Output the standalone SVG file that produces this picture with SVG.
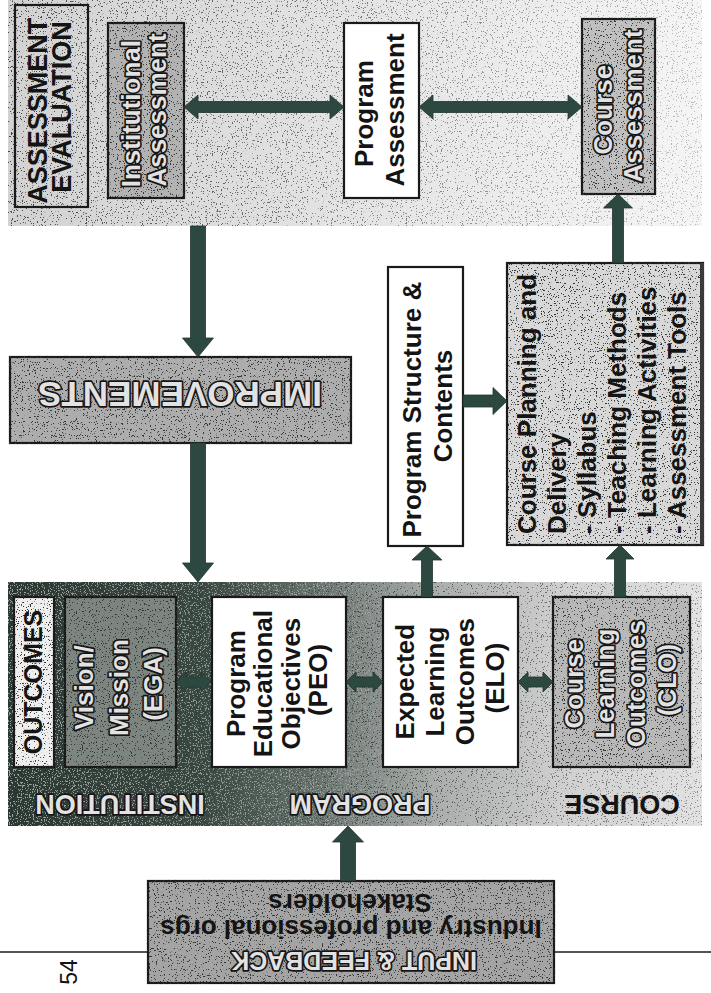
<svg xmlns="http://www.w3.org/2000/svg" width="711" height="993" viewBox="0 0 711 993">
  <style>
    text { font-family: "Liberation Sans", Arial, sans-serif; font-weight: bold; fill: #141414; }
    .t26 { font-size: 26px; }
    .hollow { fill: #e2e2e2; stroke: #151515; stroke-width: 3.4; paint-order: stroke; stroke-linejoin: round; }
    .edge { stroke: #1a1a1a; stroke-width: 2.2; }
    .white { fill: #ffffff; }
    .arrow { fill: #2c4840; stroke: #22352f; stroke-width: 0.8; stroke-linejoin: miter; }
    .rule { stroke: #1a1a1a; stroke-width: 1.6; fill: none; }
  </style>
  <defs>
    <!-- dark speckle merged over a shape's own fill -->
    <filter id="grain" color-interpolation-filters="sRGB">
      <feTurbulence type="fractalNoise" baseFrequency="0.85" numOctaves="2" seed="11" result="n"/>
      <feColorMatrix in="n" type="matrix" values="0 0 0 0 0.2  0 0 0 0 0.21  0 0 0 0 0.2  0 0 0 -24 8.6" result="d"/>
      <feComposite in="d" in2="SourceGraphic" operator="in" result="c"/>
      <feMerge><feMergeNode in="SourceGraphic"/><feMergeNode in="c"/></feMerge>
    </filter>
    <!-- dark specks only, density follows the shape's alpha -->
    <filter id="dotsDark" x="0" y="0" width="1" height="1" color-interpolation-filters="sRGB">
      <feTurbulence type="fractalNoise" baseFrequency="0.8" numOctaves="2" seed="4" result="n"/>
      <feColorMatrix in="n" type="matrix" values="0 0 0 0 0.2  0 0 0 0 0.22  0 0 0 0 0.21  0 0 0 -24 8.5" result="d"/>
      <feComposite in="d" in2="SourceGraphic" operator="in"/>
    </filter>
    <!-- light specks for the dark end of the outcomes panel -->
    <filter id="dotsLight" x="0" y="0" width="1" height="1" color-interpolation-filters="sRGB">
      <feTurbulence type="fractalNoise" baseFrequency="0.75" numOctaves="2" seed="9" result="n"/>
      <feColorMatrix in="n" type="matrix" values="0 0 0 0 0.8  0 0 0 0 0.82  0 0 0 0 0.81  0 0 0 20 -11.6" result="d"/>
      <feComposite in="d" in2="SourceGraphic" operator="in"/>
    </filter>
    <linearGradient id="bandFill" x1="0" y1="0" x2="1" y2="0">
      <stop offset="0" stop-color="#d2d2d2"/>
      <stop offset="0.5" stop-color="#e4e4e4"/>
      <stop offset="1" stop-color="#f5f5f5"/>
    </linearGradient>
    <linearGradient id="bandDots" x1="0" y1="0" x2="1" y2="0">
      <stop offset="0" stop-color="#000" stop-opacity="0.9"/>
      <stop offset="0.6" stop-color="#000" stop-opacity="0.55"/>
      <stop offset="1" stop-color="#000" stop-opacity="0.3"/>
    </linearGradient>
    <linearGradient id="panelFill" x1="0" y1="0" x2="1" y2="0">
      <stop offset="0" stop-color="#2a3731"/>
      <stop offset="0.28" stop-color="#38473f"/>
      <stop offset="0.46" stop-color="#6c7671"/>
      <stop offset="0.62" stop-color="#abaeac"/>
      <stop offset="0.8" stop-color="#cfd0cf"/>
      <stop offset="1" stop-color="#e2e2e2"/>
    </linearGradient>
    <linearGradient id="panelLight" x1="0" y1="0" x2="1" y2="0">
      <stop offset="0" stop-color="#fff" stop-opacity="0.7"/>
      <stop offset="0.45" stop-color="#fff" stop-opacity="0.5"/>
      <stop offset="0.65" stop-color="#fff" stop-opacity="0"/>
    </linearGradient>
    <linearGradient id="panelDark" x1="0" y1="0" x2="1" y2="0">
      <stop offset="0" stop-color="#000" stop-opacity="0.2"/>
      <stop offset="0.5" stop-color="#000" stop-opacity="0.8"/>
      <stop offset="1" stop-color="#000" stop-opacity="0.5"/>
    </linearGradient>
  </defs>

  <rect width="711" height="993" fill="#ffffff"/>

  <!-- assessment / evaluation band -->
  <g id="assessment-band">
    <rect x="8" y="0" width="694" height="226" fill="url(#bandFill)"/>
    <rect x="8" y="0" width="694" height="226" fill="url(#bandDots)" filter="url(#dotsDark)"/>
  </g>

  <!-- outcomes panel: institution / program / course -->
  <g id="outcomes-panel">
    <rect x="8" y="582" width="694" height="244" fill="url(#panelFill)"/>
    <rect x="8" y="582" width="694" height="244" fill="url(#panelLight)" filter="url(#dotsLight)"/>
    <rect x="8" y="582" width="694" height="244" fill="url(#panelDark)" filter="url(#dotsDark)"/>
    <text class="hollow" font-size="27" text-anchor="middle" transform="rotate(180)" x="-120" y="-795">INSTITUTION</text>
    <text class="hollow" font-size="27" text-anchor="middle" transform="rotate(180)" x="-360" y="-795">PROGRAM</text>
    <text font-size="27" text-anchor="middle" transform="rotate(180)" x="-622" y="-795">COURSE</text>
  </g>

  <g id="assessment-evaluation">
    <rect class="edge" x="15" y="5" width="73" height="202" fill="none"/>
    <text font-size="27" text-anchor="middle" transform="rotate(-90)">
      <tspan x="-107" y="47">ASSESSMENT</tspan>
      <tspan x="-107" y="71">EVALUATION</tspan>
    </text>
  </g>

  <g id="institutional-assessment">
    <rect class="edge" x="108" y="23" width="76" height="175" fill="#b2b2b2" filter="url(#grain)"/>
    <text class="t26 hollow" text-anchor="middle" transform="rotate(-90)">
      <tspan x="-110" y="140">Institutional</tspan>
      <tspan x="-110" y="166">Assessment</tspan>
    </text>
  </g>

  <g id="program-assessment">
    <rect class="edge white" x="344" y="23" width="75" height="175"/>
    <text class="t26" text-anchor="middle" transform="rotate(-90)">
      <tspan x="-110" y="373">Program</tspan>
      <tspan x="-110" y="404">Assessment</tspan>
    </text>
  </g>

  <g id="course-assessment">
    <rect class="edge" x="582" y="19" width="73" height="175" fill="#c0c0c0" filter="url(#grain)"/>
    <text class="t26 hollow" text-anchor="middle" transform="rotate(-90)">
      <tspan x="-106" y="612">Course</tspan>
      <tspan x="-106" y="642">Assessment</tspan>
    </text>
  </g>

  <g id="improvements">
    <rect class="edge" x="10" y="357" width="341" height="86" fill="#adadad" filter="url(#grain)"/>
    <text class="hollow" font-size="35" text-anchor="middle" transform="rotate(180)" x="-180" y="-382">IMPROVEMENTS</text>
  </g>

  <g id="program-structure">
    <rect class="edge white" x="388" y="267" width="75" height="279"/>
    <text class="t26" text-anchor="middle" transform="rotate(-90)">
      <tspan x="-406" y="421">Program Structure &amp;</tspan>
      <tspan x="-406" y="452">Contents</tspan>
    </text>
  </g>

  <g id="course-planning">
    <rect class="edge" x="507" y="263" width="196" height="282" fill="#d8d8d8" filter="url(#grain)"/>
    <line x1="702" y1="263" x2="702" y2="545" stroke="#3a3a3a" stroke-width="4"/>
    <text class="t26" transform="rotate(-90)">
      <tspan x="-534" y="536">Course Planning and</tspan>
      <tspan x="-534" y="566">Delivery</tspan>
      <tspan x="-534" y="596">- Syllabus</tspan>
      <tspan x="-534" y="626">- Teaching Methods</tspan>
      <tspan x="-534" y="656">- Learning Activities</tspan>
      <tspan x="-534" y="686">- Assessment Tools</tspan>
    </text>
  </g>

  <g id="outcomes-label">
    <rect class="edge" x="14" y="597" width="40" height="170" fill="#eeeeee" filter="url(#grain)"/>
    <text font-size="25" text-anchor="middle" transform="rotate(-90)" x="-682" y="42">OUTCOMES</text>
  </g>

  <g id="vision-mission">
    <rect class="edge" x="65" y="597" width="111" height="170" fill="#7c8580" filter="url(#grain)"/>
    <text class="t26 hollow" text-anchor="middle" transform="rotate(-90)">
      <tspan x="-684" y="93">Vision/</tspan>
      <tspan x="-684" y="128">Mission</tspan>
      <tspan x="-684" y="162">(EGA)</tspan>
    </text>
  </g>

  <g id="peo">
    <rect class="edge white" x="212" y="597" width="134" height="170"/>
    <text class="t26" text-anchor="middle" transform="rotate(-90)">
      <tspan x="-680" y="245">Program</tspan>
      <tspan x="-680" y="272">Educational</tspan>
      <tspan x="-680" y="300">Objectives</tspan>
      <tspan x="-680" y="327">(PEO)</tspan>
    </text>
  </g>

  <g id="elo">
    <rect class="edge white" x="383" y="597" width="135" height="170"/>
    <text class="t26" text-anchor="middle" transform="rotate(-90)">
      <tspan x="-678" y="414">Expected</tspan>
      <tspan x="-678" y="444">Learning</tspan>
      <tspan x="-678" y="474">Outcomes</tspan>
      <tspan x="-678" y="504">(ELO)</tspan>
    </text>
  </g>

  <g id="clo">
    <rect class="edge" x="553" y="597" width="137" height="170" fill="#b8b8b8" filter="url(#grain)"/>
    <text class="t26 hollow" text-anchor="middle" transform="rotate(-90)">
      <tspan x="-680" y="583">Course</tspan>
      <tspan x="-680" y="614">Learning</tspan>
      <tspan x="-680" y="645">Outcomes</tspan>
      <tspan x="-680" y="676">(CLO)</tspan>
    </text>
  </g>

  <g id="input-feedback">
    <rect class="edge" x="148" y="881" width="406" height="102" fill="#a4a4a4" filter="url(#grain)"/>
    <text class="hollow" font-size="25" text-anchor="middle" transform="rotate(180)" x="-354" y="-952">INPUT &amp; FEEDBACK</text>
    <text class="t26" text-anchor="middle" transform="rotate(180)" x="-351" y="-920">Industry and professional orgs</text>
    <text class="t26" text-anchor="middle" transform="rotate(180)" x="-350" y="-894">Stakeholders</text>
  </g>

  <g id="page-footer">
    <line class="rule" x1="0" y1="952" x2="148" y2="952"/>
    <line class="rule" x1="554" y1="952" x2="711" y2="952"/>
    <text font-size="23" text-anchor="middle" transform="rotate(-90)" x="-972" y="77" style="font-weight:normal">54</text>
  </g>

  <!-- connectors -->
  <g id="connectors">
    <polygon class="arrow" points="190.5,226 205.5,226 205.5,338 213.5,338 198,357 182.5,338 190.5,338"/>
    <polygon class="arrow" points="190.5,443 205.5,443 205.5,563 213.5,563 198,582 182.5,563 190.5,563"/>
    <polygon class="arrow" points="184,107 198,95 198,101.5 330,101.5 330,95 344,107 330,119 330,112.5 198,112.5 198,119"/>
    <polygon class="arrow" points="419,107 433,95 433,101.5 568,101.5 568,95 582,107 568,119 568,112.5 433,112.5 433,119"/>
    <polygon class="arrow" points="463,395 493,395 493,387.5 507,401 493,414.5 493,407 463,407"/>
    <polygon class="arrow" points="421.5,597 432.5,597 432.5,560 442,560 427,546 412,560 421.5,560"/>
    <polygon class="arrow" points="614.5,597 625.5,597 625.5,559 634,559 620,545 606,559 614.5,559"/>
    <polygon class="arrow" points="612.5,263 623.5,263 623.5,208 632.5,208 618,194 603.5,208 612.5,208"/>
    <polygon class="arrow" points="340.5,881 355.5,881 355.5,842 363.5,842 348,826 332.5,842 340.5,842"/>
    <polygon class="arrow" points="176,682 186,672 186,677 201,677 201,672 211,682 201,692 201,687 186,687 186,692"/>
    <polygon class="arrow" points="346,682 356,672 356,677 373,677 373,672 383,682 373,692 373,687 356,687 356,692"/>
    <polygon class="arrow" points="518,682 528,672 528,677 543,677 543,672 553,682 543,692 543,687 528,687 528,692"/>
  </g>
</svg>
